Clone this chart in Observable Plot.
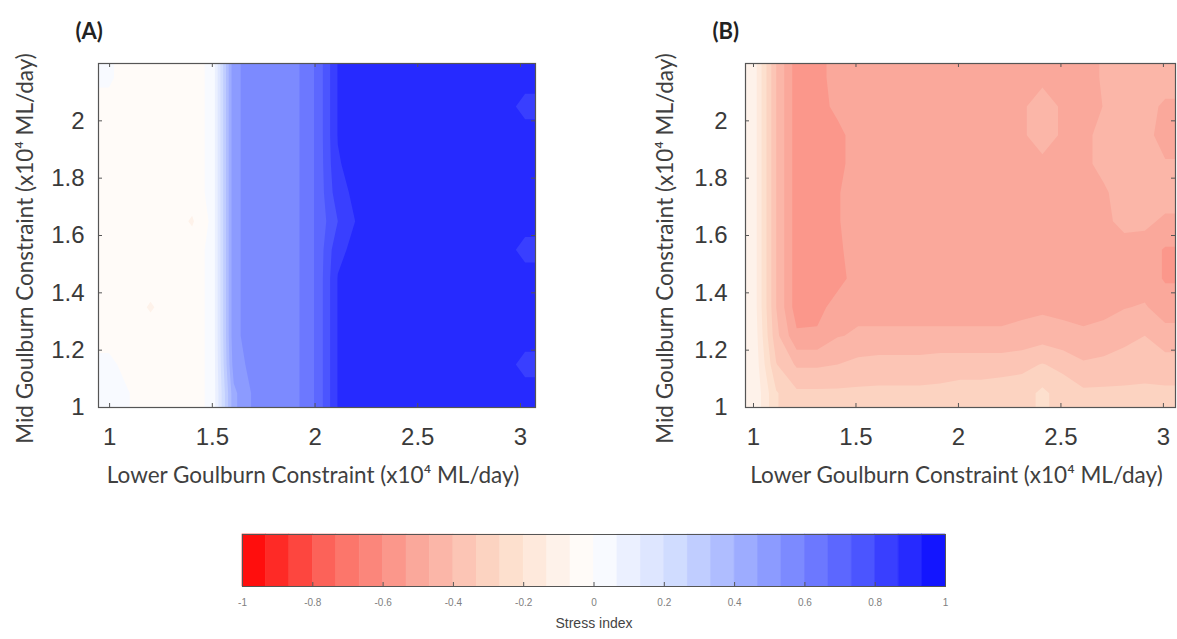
<!DOCTYPE html>
<html><head><meta charset="utf-8">
<script src="https://cdn.jsdelivr.net/npm/d3@7"></script>
<script src="https://cdn.jsdelivr.net/npm/@observablehq/plot@0.6"></script>
<style>
body{margin:0;background:#fff;}
#root{position:relative;width:1177px;height:639px;overflow:hidden;background:#fff;}
#root > svg{position:absolute;}
</style></head><body><div id="root"></div>
<script>
// ---- labels & ticks ----
const xTitle = "Lower Goulburn Constraint (x10\u2074 ML/day)";
const yTitle = "Mid Goulburn Constraint (x10\u2074 ML/day)";
const colorTitle = "Stress index";
const panelTags = ["(A)", "(B)"];
const xTicks = [1, 1.5, 2, 2.5, 3];
const yTicks = [1, 1.2, 1.4, 1.6, 1.8, 2];
const colorbarTicks = [-1, -0.8, -0.6, -0.4, -0.2, 0, 0.2, 0.4, 0.6, 0.8, 1];
const yRange = [1, 2.2];
const gridCols = 21;   // Lower Goulburn samples ~1.0 .. 3.0
const gridRows = 12;   // Mid Goulburn samples 2.15 (top) .. 1.05 (bottom)

// ---- Panel A stress index grid (rows top -> bottom, columns left -> right) ----
const panelA_r00 = [ 0.01,-0.03,-0.03,-0.03,-0.03, 0.02, 0.52, 0.56, 0.56, 0.585, 0.68, 0.87, 0.90, 0.90, 0.90, 0.90, 0.90, 0.90, 0.90, 0.90, 0.90];
const panelA_r01 = [-0.02,-0.03,-0.03,-0.03,-0.03, 0.02, 0.52, 0.56, 0.56, 0.585, 0.68, 0.87, 0.90, 0.90, 0.90, 0.90, 0.90, 0.90, 0.90, 0.90, 0.84];
const panelA_r02 = [-0.03,-0.03,-0.03,-0.03,-0.03, 0.02, 0.52, 0.56, 0.56, 0.585, 0.68, 0.87, 0.90, 0.90, 0.90, 0.90, 0.90, 0.90, 0.90, 0.90, 0.90];
const panelA_r03 = [-0.03,-0.03,-0.03,-0.03,-0.03, 0.02, 0.52, 0.56, 0.56, 0.585, 0.68, 0.86, 0.90, 0.90, 0.90, 0.90, 0.90, 0.90, 0.90, 0.90, 0.90];
const panelA_r04 = [-0.03,-0.03,-0.03,-0.03,-0.03, 0.02, 0.52, 0.56, 0.56, 0.585, 0.68, 0.84, 0.89, 0.90, 0.90, 0.90, 0.90, 0.90, 0.90, 0.90, 0.90];
const panelA_r05 = [-0.03,-0.03,-0.03,-0.03,-0.075,0.02, 0.52, 0.56, 0.56, 0.585, 0.68, 0.80, 0.88, 0.90, 0.90, 0.90, 0.90, 0.90, 0.90, 0.90, 0.90];
const panelA_r06 = [-0.03,-0.03,-0.03,-0.03,-0.03, 0.02, 0.52, 0.56, 0.56, 0.585, 0.68, 0.85, 0.89, 0.90, 0.90, 0.90, 0.90, 0.90, 0.90, 0.90, 0.84];
const panelA_r07 = [-0.03,-0.03,-0.03,-0.03,-0.03, 0.02, 0.52, 0.56, 0.56, 0.585, 0.68, 0.87, 0.90, 0.90, 0.90, 0.90, 0.90, 0.90, 0.90, 0.90, 0.90];
const panelA_r08 = [-0.03,-0.03,-0.075,-0.03,-0.03,0.02, 0.52, 0.56, 0.56, 0.585, 0.68, 0.87, 0.90, 0.90, 0.90, 0.90, 0.90, 0.90, 0.90, 0.90, 0.90];
const panelA_r09 = [-0.03,-0.03,-0.03,-0.03,-0.03, 0.02, 0.52, 0.56, 0.56, 0.585, 0.68, 0.87, 0.90, 0.90, 0.90, 0.90, 0.90, 0.90, 0.90, 0.90, 0.90];
const panelA_r10 = [ 0.02,-0.03,-0.03,-0.03,-0.03, 0.02, 0.50, 0.56, 0.56, 0.585, 0.68, 0.87, 0.90, 0.90, 0.90, 0.90, 0.90, 0.90, 0.90, 0.90, 0.84];
const panelA_r11 = [ 0.02, 0.00,-0.03,-0.03,-0.03, 0.02, 0.45, 0.55, 0.56, 0.585, 0.68, 0.87, 0.90, 0.90, 0.90, 0.90, 0.90, 0.90, 0.90, 0.90, 0.90];

// ---- Panel B stress index grid ----
const panelB_r00 = [-0.12,-0.40,-0.57,-0.57,-0.49,-0.49,-0.49,-0.49,-0.49,-0.49,-0.49,-0.49,-0.49,-0.49,-0.48,-0.49,-0.49,-0.46,-0.43,-0.43,-0.43];
const panelB_r01 = [-0.12,-0.40,-0.57,-0.57,-0.51,-0.49,-0.49,-0.49,-0.49,-0.49,-0.49,-0.49,-0.49,-0.475,-0.44,-0.475,-0.49,-0.465,-0.43,-0.44,-0.48];
const panelB_r02 = [-0.12,-0.40,-0.57,-0.57,-0.56,-0.49,-0.49,-0.49,-0.49,-0.49,-0.49,-0.49,-0.49,-0.475,-0.44,-0.475,-0.48,-0.45,-0.43,-0.44,-0.50];
const panelB_r03 = [-0.12,-0.40,-0.57,-0.57,-0.56,-0.49,-0.49,-0.49,-0.49,-0.49,-0.49,-0.49,-0.49,-0.49,-0.48,-0.49,-0.48,-0.45,-0.43,-0.43,-0.46];
const panelB_r04 = [-0.12,-0.40,-0.57,-0.57,-0.54,-0.49,-0.49,-0.49,-0.49,-0.49,-0.49,-0.49,-0.49,-0.49,-0.49,-0.49,-0.49,-0.475,-0.44,-0.43,-0.43];
const panelB_r05 = [-0.12,-0.40,-0.57,-0.57,-0.54,-0.49,-0.49,-0.49,-0.49,-0.49,-0.49,-0.49,-0.49,-0.49,-0.49,-0.49,-0.49,-0.48,-0.45,-0.45,-0.48];
const panelB_r06 = [-0.12,-0.40,-0.57,-0.57,-0.55,-0.49,-0.49,-0.49,-0.49,-0.49,-0.49,-0.49,-0.49,-0.49,-0.49,-0.49,-0.49,-0.49,-0.49,-0.50,-0.54];
const panelB_r07 = [-0.12,-0.40,-0.57,-0.57,-0.56,-0.50,-0.49,-0.49,-0.49,-0.49,-0.49,-0.49,-0.49,-0.49,-0.49,-0.49,-0.49,-0.49,-0.49,-0.50,-0.54];
const panelB_r08 = [-0.12,-0.40,-0.57,-0.56,-0.50,-0.48,-0.48,-0.48,-0.48,-0.48,-0.48,-0.48,-0.48,-0.48,-0.48,-0.48,-0.48,-0.48,-0.47,-0.46,-0.50];
const panelB_r09 = [-0.11,-0.38,-0.52,-0.52,-0.47,-0.46,-0.46,-0.46,-0.46,-0.46,-0.46,-0.46,-0.46,-0.45,-0.43,-0.45,-0.46,-0.45,-0.42,-0.40,-0.44];
const panelB_r10 = [-0.10,-0.33,-0.41,-0.41,-0.40,-0.38,-0.37,-0.37,-0.37,-0.36,-0.36,-0.36,-0.36,-0.35,-0.33,-0.35,-0.39,-0.38,-0.37,-0.36,-0.37];
const panelB_r11 = [-0.09,-0.26,-0.32,-0.32,-0.32,-0.32,-0.32,-0.32,-0.32,-0.32,-0.31,-0.31,-0.30,-0.30,-0.25,-0.30,-0.32,-0.32,-0.32,-0.32,-0.32];

const panelA = [panelA_r00,panelA_r01,panelA_r02,panelA_r03,panelA_r04,panelA_r05,panelA_r06,panelA_r07,panelA_r08,panelA_r09,panelA_r10,panelA_r11];
const panelB = [panelB_r00,panelB_r01,panelB_r02,panelB_r03,panelB_r04,panelB_r05,panelB_r06,panelB_r07,panelB_r08,panelB_r09,panelB_r10,panelB_r11];

// ---- colour map: 30 discrete levels, red -> white -> blue ----
const cmapStops = [-1, -0.75, -0.5, -0.25, 0, 0.25, 0.5, 0.75, 1];
const cmapColors = ["rgb(255,0,0)", "rgb(252,105,95)", "rgb(250,168,155)", "rgb(253,222,203)", "rgb(255,255,255)",
                    "rgb(205,218,255)", "rgb(140,155,255)", "rgb(80,90,255)", "rgb(10,10,255)"];
const nLevels = 30;
const thresholds = d3.range(nLevels + 1).map(i => -1 + i * 2 / nLevels);
const ramp = d3.scaleLinear().domain(cmapStops).range(cmapColors).interpolate(d3.interpolateRgb);
const cmap = d3.range(nLevels).map(i => ramp((thresholds[i] + thresholds[i + 1]) / 2));
const colorOpts = {type: "threshold", domain: thresholds.slice(1, nLevels), range: cmap};

const tickFont = "'Liberation Sans', Arial, sans-serif";
const titleFont = "Lato, 'Open Sans', sans-serif";
const root = document.getElementById("root");

// replicate the edge samples once so the contour edges fall outside the clipped frame
function padGrid(rows) {
  const p = rows.map(r => [r[0], ...r, r[r.length - 1]]);
  return [p[0], ...p, p[p.length - 1]];
}

function panel(rows, tag, xDomain, cfg) {
  const H = 500, mt = 63, mb = 93;
  const fh = H - mt - mb, fw = cfg.width - cfg.ml - cfg.mr;
  const dx = (xDomain[1] - xDomain[0]) / gridCols, dy = (yRange[1] - yRange[0]) / gridRows;
  const svg = Plot.plot({
    width: cfg.width, height: H,
    marginTop: mt, marginBottom: mb, marginLeft: cfg.ml, marginRight: cfg.mr,
    style: {background: "transparent", fontFamily: tickFont, overflow: "visible"},
    x: {domain: xDomain},
    y: {domain: yRange},
    color: colorOpts,
    marks: [
      Plot.contour(padGrid(rows).flat(), {
        x1: xDomain[0] - dx, x2: xDomain[1] + dx, y1: yRange[1] + dy, y2: yRange[0] - dy,
        width: gridCols + 2, height: gridRows + 2,
        fill: Plot.identity, thresholds, stroke: "none", clip: true
      }),
      Plot.frame({stroke: "#555", strokeWidth: 1.2}),
      Plot.ruleX(xTicks, {x: d => d, insetTop: fh - 4, stroke: "#555"}),
      Plot.ruleX(xTicks, {x: d => d, insetBottom: fh - 4, stroke: "#555"}),
      Plot.ruleY(yTicks, {y: d => d, insetRight: fw - 4, stroke: "#555"}),
      Plot.ruleY(yTicks, {y: d => d, insetLeft: fw - 4, stroke: "#555"}),
      Plot.axisX(xTicks, {tickSize: 0, tickPadding: 20, fontSize: 24, fill: "#3a3a3a", tickFormat: d => String(d), label: null}),
      Plot.axisY(yTicks, {tickSize: 0, tickPadding: cfg.ypad, fontSize: 24, fill: "#3a3a3a", tickFormat: d => String(d), label: null}),
      Plot.text([xTitle], {text: d => d, frameAnchor: "bottom", lineAnchor: "middle", textAnchor: "middle", dx: -4, dy: 68, fontSize: 22.5, fontFamily: titleFont, fill: "#404040"}),
      Plot.text([yTitle], {text: d => d, frameAnchor: "left", lineAnchor: "middle", textAnchor: "middle", rotate: -90, dx: cfg.ytx, dy: 13, fontSize: 22.5, fontFamily: titleFont, fill: "#404040"}),
      Plot.text([tag], {text: d => d, frameAnchor: "top-left", lineAnchor: "middle", textAnchor: "start", dx: cfg.tagdx, dy: -32, fontSize: 22, fontWeight: "bold", fontFamily: titleFont, fill: "#222"})
    ]
  });
  svg.style.left = cfg.left + "px";
  svg.style.top = "0px";
  root.appendChild(svg);
}

panel(panelA, panelTags[0], [0.946, 3.073], {left: 0, width: 560, ml: 98, mr: 25, ypad: 14, ytx: -73, tagdx: -23});
panel(panelB, panelTags[1], [0.961, 3.059], {left: 600, width: 577, ml: 145, mr: 2, ypad: 18, ytx: -80, tagdx: -33});

// ---- colour bar ----
const bands = d3.range(nLevels).map(i => ({lo: thresholds[i], hi: thresholds[i + 1]}));
const cbH = 129, cbTop = 24, cbBottom = 53;
const cb = Plot.plot({
  width: 1177, height: cbH,
  marginLeft: 242, marginRight: 232, marginTop: cbTop, marginBottom: cbBottom,
  style: {background: "transparent", fontFamily: tickFont, overflow: "visible"},
  x: {domain: [-1, 1]},
  color: colorOpts,
  marks: [
    Plot.rect(bands, {x1: "lo", x2: "hi", fill: "lo", stroke: "lo", strokeWidth: 0.6}),
    Plot.frame({stroke: "#555"}),
    Plot.ruleX(colorbarTicks, {x: d => d, insetTop: cbH - cbTop - cbBottom - 4, stroke: "#555"}),
    Plot.axisX(colorbarTicks, {tickSize: 0, tickPadding: 12, fontSize: 10, fill: "#808080", tickFormat: d => String(d), label: null}),
    Plot.text([colorTitle], {text: d => d, frameAnchor: "bottom", lineAnchor: "middle", dy: 37, fontSize: 14, fill: "#444"})
  ]
});
cb.style.left = "0px";
cb.style.top = "510px";
root.appendChild(cb);
</script>
</body></html>
